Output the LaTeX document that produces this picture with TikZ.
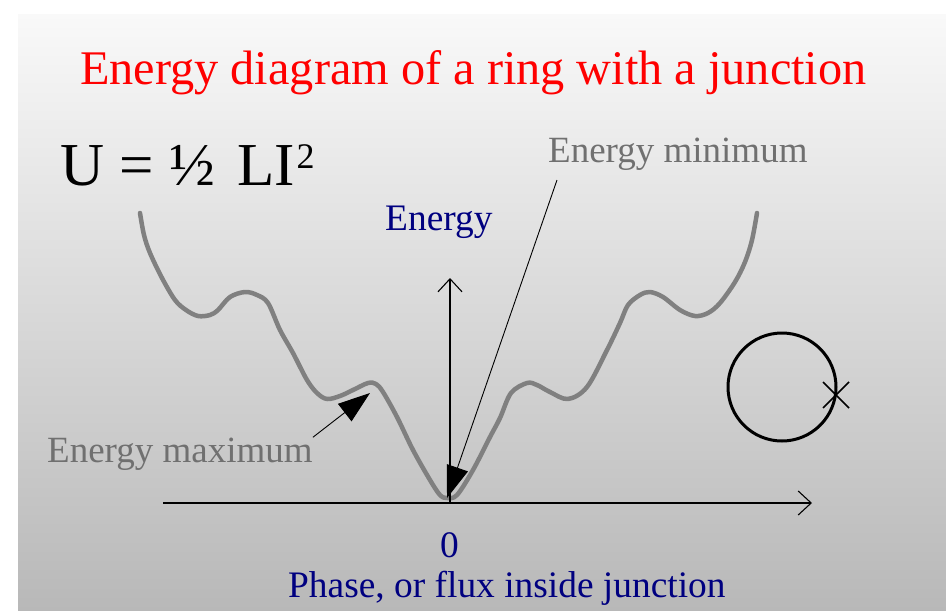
\documentclass[tikz,border=0pt]{standalone}
\usepackage{fontspec}
\setmainfont{Liberation Serif}
\usetikzlibrary{arrows.meta}
\definecolor{titlered}{RGB}{255,0,0}
\definecolor{navyblue}{RGB}{0,0,128}
\definecolor{labelgray}{RGB}{112,112,112}
\definecolor{curvegray}{RGB}{128,128,128}
\definecolor{bgtop}{RGB}{249,249,249}
\definecolor{bgbottom}{RGB}{184,184,184}
\tikzset{
  txt/.style={inner sep=0pt, anchor=base west},
  titletext/.style={txt, text=titlered, font=\fontsize{48.3}{56}\selectfont},
  labeltext/.style={txt, text=labelgray, font=\fontsize{37}{44}\selectfont},
  axistext/.style={txt, text=navyblue, font=\fontsize{37.4}{44}\selectfont},
  axisline/.style={line width=1.1pt, -{Straight Barb[length=13pt,width=24pt,line width=1.1pt]}},
  pointer/.style={line width=0.9pt, -{Triangle[length=32pt,width=22pt]}},
  energycurve/.style={line width=4.5pt, curvegray, line join=round, line cap=round},
}
\begin{document}
\begin{tikzpicture}[x=1pt,y=-1pt]
\useasboundingbox (0,0) rectangle (946,611);
\fill[white] (0,0) rectangle (946,611);
\shade[top color=bgtop, bottom color=bgbottom] (18,14) rectangle (946,611);

% title and formula
\node[titletext] (title) at (80,84) {Energy diagram of a ring with a junction};
\node[txt, font=\fontsize{61}{70}\selectfont] (formula) at (60,185)
  {U = ½ \kern7pt LI\kern2pt\raisebox{17pt}{\fontsize{36}{40}\selectfont 2}};

% energy curve
\draw[energycurve] plot[smooth, tension=0.55] coordinates {
 (140,213) (144,235) (150,253) (162,278) (175,300) (186,310) (198,316) (210,315)
 (218,310) (230,297) (245,292) (257,295) (268,303) (280,330) (293,353) (307,380)
 (317,393) (327,399) (340,396) (353,390) (368,383) (376,384) (383,392) (397,417)
 (413,450) (430,480) (440,495) (447,498) (457,495) (473,470) (490,437) (500,418)
 (511,393) (527,383) (537,385) (550,392) (568,399) (587,387) (607,350) (620,323)
 (628,305) (640,295) (650,292) (663,297) (680,310) (695,316) (708,313) (720,303)
 (735,282) (745,262) (752,240) (757,213)};

% axes
\coordinate (origin) at (450,503);
\coordinate (xstart) at (163,503);
\coordinate (xend) at (812,503);
\coordinate (ytop) at (450,278);
\draw[axisline] (xstart) -- (xend);
\draw[axisline] (origin) -- (ytop);

\node[axistext] (energy) at (385,230) {Energy};
\node[axistext] (zero) at (440,557) {0};
\node[axistext] (phase) at (288,597) {Phase, or flux inside junction};

% pointer labels
\node[labeltext] (emin) at (548,162) {Energy minimum};
\node[labeltext] (emax) at (47,462) {Energy maximum};
\coordinate (minstart) at (557,180);
\coordinate (minpt) at (447,498);
\coordinate (maxpt) at (370,393);
\draw[pointer] (minstart) -- (minpt);
\draw[pointer] (emax.north east) -- (maxpt);

% ring with junction
\node[draw, circle, line width=3pt, minimum size=108pt, inner sep=0pt] (ring) at (782,387) {};
\coordinate (junction) at (836,395);
\draw[line width=1.5pt] ([shift={(-13,-13)}]junction) -- ([shift={(13,13)}]junction);
\draw[line width=1.5pt] ([shift={(13,-13)}]junction) -- ([shift={(-13,13)}]junction);
\end{tikzpicture}
\end{document}
